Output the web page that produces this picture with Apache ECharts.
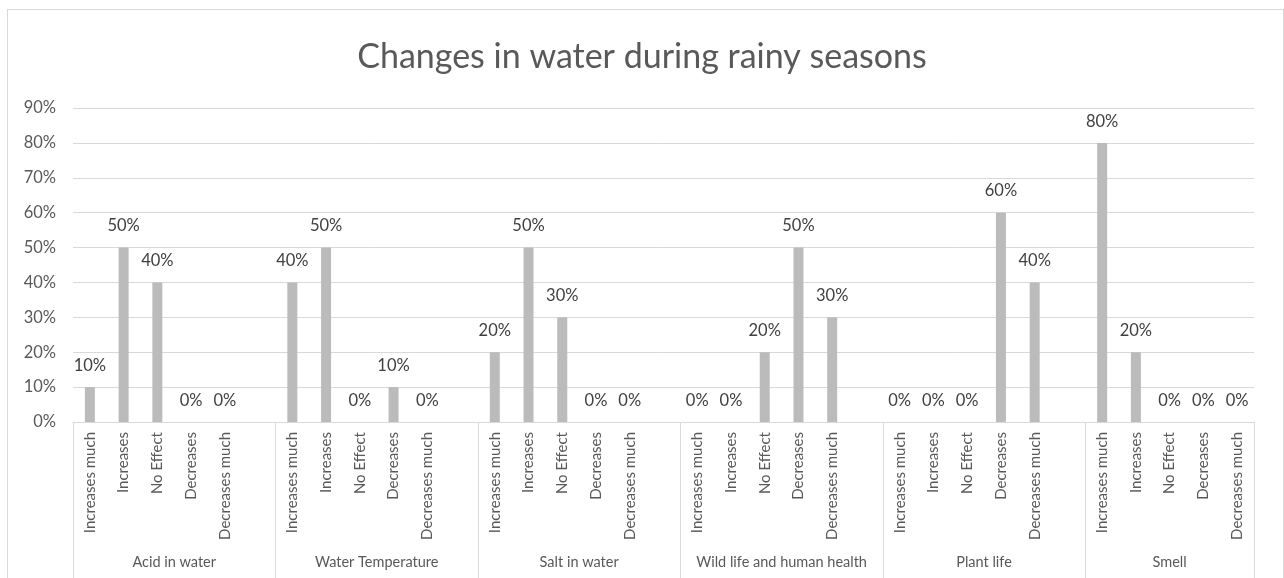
<!DOCTYPE html>
<html>
<head>
<meta charset="utf-8">
<script src="https://cdn.jsdelivr.net/npm/echarts@6/dist/echarts.min.js"></script>
<style>
  html, body { margin: 0; padding: 0; background: #fff; }
  #chart { position: absolute; left: 0; top: 0; width: 1284px; height: 578px; }
  #frame { position: absolute; left: 7px; top: 9px; width: 1275px; height: 600px; border: 1px solid #d9d9d9; pointer-events: none; }
</style>
</head>
<body>
<div id="chart"></div>
<div id="frame"></div>
<script>
const groups = ['Acid in water', 'Water Temperature', 'Salt in water', 'Wild life and human health', 'Plant life', 'Smell'];
const levels = ['Increases much', 'Increases', 'No Effect', 'Decreases', 'Decreases much'];
const acidInWater = [10, 50, 40, 0, 0];
const waterTemperature = [40, 50, 0, 10, 0];
const saltInWater = [20, 50, 30, 0, 0];
const wildLife = [0, 0, 20, 50, 30];
const plantLife = [0, 0, 0, 60, 40];
const smell = [80, 20, 0, 0, 0];
const yTicks = [0, 10, 20, 30, 40, 50, 60, 70, 80, 90];

const groupValues = [acidInWater, waterTemperature, saltInWater, wildLife, plantLife, smell];

// each group gets its 5 levels plus one blank slot (not after the last group)
const categories = [];
const values = [];
const groupCenter = {};
groupValues.forEach((vals, g) => {
  const start = categories.length;
  levels.forEach((lv, i) => { categories.push(lv); values.push(vals[i]); });
  if (g < groupValues.length - 1) { categories.push(''); values.push(null); }
  const end = categories.length;
  groupCenter[(start + end) / 2] = groups[g];
});

const chart = echarts.init(document.getElementById('chart'));
const font = 'Lato, "Open Sans", sans-serif';

chart.setOption({
  animation: false,
  title: {
    text: 'Changes in water during rainy seasons',
    left: 'center',
    top: 35,
    textStyle: { fontFamily: font, fontSize: 34, fontWeight: 'normal', color: '#595959' }
  },
  grid: { left: 73, right: 30, top: 108, bottom: 156 },
  xAxis: [
    {
      type: 'category',
      data: categories,
      axisLine: { show: true, lineStyle: { color: '#d9d9d9' } },
      axisTick: {
        show: true,
        interval: (i) => i % 6 === 0,
        length: 170,
        lineStyle: { color: '#d9d9d9' }
      },
      axisLabel: {
        interval: 0,
        rotate: 90,
        margin: 10,
        fontFamily: font,
        fontSize: 15,
        color: '#595959'
      }
    },
    {
      type: 'value',
      min: 0,
      max: categories.length,
      interval: 0.5,
      position: 'bottom',
      axisLine: { show: false },
      axisTick: { show: false },
      splitLine: { show: false },
      axisLabel: {
        margin: 133,
        hideOverlap: false,
        showMinLabel: true,
        showMaxLabel: true,
        fontFamily: font,
        fontSize: 14.5,
        color: '#595959',
        formatter: (v) => groupCenter[v] || ''
      }
    }
  ],
  yAxis: {
    type: 'value',
    min: yTicks[0],
    max: yTicks[yTicks.length - 1],
    interval: 10,
    axisLine: { show: false },
    axisTick: { show: false },
    splitLine: { lineStyle: { color: '#d9d9d9' } },
    axisLabel: {
      formatter: '{value}%',
      margin: 17,
      fontFamily: font,
      fontSize: 16.5,
      color: '#595959'
    }
  },
  series: [
    {
      type: 'bar',
      xAxisIndex: 0,
      data: values,
      barWidth: 10,
      itemStyle: { color: '#bbbbbb' },
      label: {
        show: true,
        position: 'top',
        distance: 13,
        formatter: '{c}%',
        fontFamily: font,
        fontSize: 16.5,
        color: '#404040'
      }
    }
  ]
});
</script>
</body>
</html>
